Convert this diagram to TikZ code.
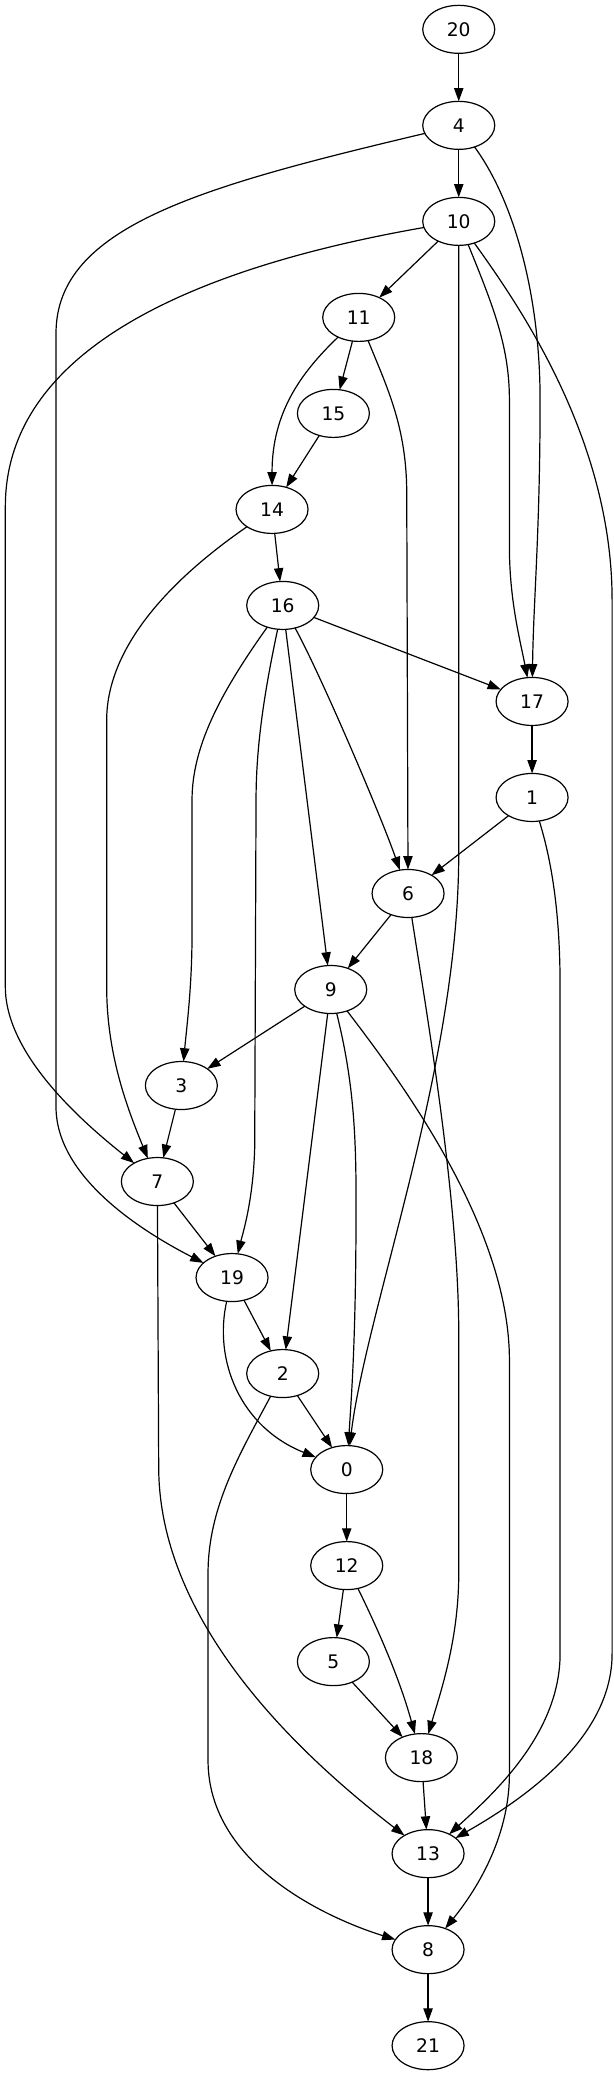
\documentclass[tikz,border=0pt]{standalone}
\usepackage{fontspec}
\setmainfont{DejaVu Sans}
\usetikzlibrary{shapes.geometric,arrows.meta}
\begin{document}
\begin{tikzpicture}[x=1pt,y=1pt,
  vnode/.style={ellipse,draw,line width=0.9pt,minimum width=54pt,minimum height=36pt,inner sep=0pt,outer sep=0pt,font=\fontsize{14}{16}\selectfont},
  edge/.style={line width=0.9pt,-{Triangle[length=10pt,width=7pt]}}]
\useasboundingbox (0,0) rectangle (460,-1556);
\node[vnode] (n20) at (344,-22) {20};
\node[vnode] (n4) at (344,-94) {4};
\node[vnode] (n10) at (344,-166) {10};
\node[vnode] (n11) at (269,-238) {11};
\node[vnode] (n15) at (250,-310) {15};
\node[vnode] (n14) at (204,-382) {14};
\node[vnode] (n16) at (212,-454) {16};
\node[vnode] (n17) at (399,-526) {17};
\node[vnode] (n1) at (399,-598) {1};
\node[vnode] (n6) at (306,-670) {6};
\node[vnode] (n9) at (248,-742) {9};
\node[vnode] (n3) at (136,-814) {3};
\node[vnode] (n7) at (118,-886) {7};
\node[vnode] (n19) at (174,-958) {19};
\node[vnode] (n2) at (212,-1030) {2};
\node[vnode] (n0) at (260,-1102) {0};
\node[vnode] (n12) at (260,-1174) {12};
\node[vnode] (n5) at (250,-1246) {5};
\node[vnode] (n18) at (316,-1318) {18};
\node[vnode] (n13) at (321,-1390) {13};
\node[vnode] (n8) at (321,-1462) {8};
\node[vnode] (n21) at (321,-1534) {21};
% straight edges
\draw[edge] (n20) -- (n4);
\draw[edge] (n4) -- (n10);
\draw[edge] (n10) -- (n11);
\draw[edge] (n11) -- (n15);
\draw[edge] (n15) -- (n14);
\draw[edge] (n14) -- (n16);
\draw[edge] (n17) -- (n1);
\draw[edge] (n1) -- (n6);
\draw[edge] (n6) -- (n9);
\draw[edge] (n9) -- (n3);
\draw[edge] (n3) -- (n7);
\draw[edge] (n7) -- (n19);
\draw[edge] (n19) -- (n2);
\draw[edge] (n2) -- (n0);
\draw[edge] (n0) -- (n12);
\draw[edge] (n12) -- (n5);
\draw[edge] (n5) -- (n18);
\draw[edge] (n18) -- (n13);
\draw[edge] (n13) -- (n8);
\draw[edge] (n8) -- (n21);
\draw[edge] (n16) -- (n17);
\draw[edge] (n16) -- (n9);
\draw[edge] (n9) -- (n2);
% curved edges
\draw[edge] (n16) .. controls (240,-505) and (285,-610) .. (n6);
\draw[edge] (n16) .. controls (165,-520) and (144,-560) .. (144,-600) -- (144,-700) .. controls (144,-740) and (140,-770) .. (n3);
\draw[edge] (n16) .. controls (198,-520) and (192,-560) .. (192,-600) -- (191,-860) .. controls (190,-900) and (182,-925) .. (n19);
\draw[edge] (n14) .. controls (120,-440) and (80,-490) .. (80,-540) -- (80,-740) .. controls (80,-790) and (95,-830) .. (n7);
\draw[edge] (n10) .. controls (150,-200) and (4,-260) .. (4,-380) -- (4,-740) .. controls (4,-790) and (60,-840) .. (n7);
\draw[edge] (n4) .. controls (150,-140) and (42,-170) .. (42,-250) -- (42,-830) .. controls (42,-880) and (100,-920) .. (n19);
\draw[edge] (n4) .. controls (385,-150) and (405,-220) .. (405,-300) .. controls (405,-400) and (400,-450) .. (n17);
\draw[edge] (n10) .. controls (370,-230) and (382,-260) .. (382,-300) -- (382,-410) .. controls (382,-450) and (390,-480) .. (n17);
\draw[edge] (n10) .. controls (390,-230) and (459,-330) .. (459,-450) -- (459,-1240) .. controls (459,-1300) and (400,-1345) .. (n13);
\draw[edge] (n10) -- (344,-640) .. controls (344,-800) and (275,-980) .. (n0);
\draw[edge] (n11) .. controls (225,-280) and (204,-310) .. (n14);
\draw[edge] (n11) .. controls (290,-290) and (305,-320) .. (305,-370) -- (n6);
\draw[edge] (n1) .. controls (415,-650) and (420,-690) .. (420,-740) -- (420,-1240) .. controls (420,-1300) and (370,-1345) .. (n13);
\draw[edge] (n6) .. controls (320,-760) and (344,-900) .. (344,-1000) -- (344,-1180) .. controls (344,-1230) and (330,-1270) .. (n18);
\draw[edge] (n9) .. controls (265,-810) and (267,-850) .. (267,-900) .. controls (267,-1000) and (264,-1040) .. (n0);
\draw[edge] (n9) .. controls (300,-810) and (382,-920) .. (382,-1020) -- (382,-1330) .. controls (382,-1380) and (355,-1420) .. (n8);
\draw[edge] (n7) -- (119,-1100) .. controls (119,-1220) and (230,-1320) .. (n13);
\draw[edge] (n19) .. controls (160,-1020) and (180,-1070) .. (n0);
\draw[edge] (n2) .. controls (180,-1090) and (156,-1130) .. (156,-1180) -- (156,-1320) .. controls (156,-1400) and (250,-1440) .. (n8);
\draw[edge] (n12) .. controls (285,-1225) and (300,-1260) .. (n18);
\end{tikzpicture}
\end{document}
